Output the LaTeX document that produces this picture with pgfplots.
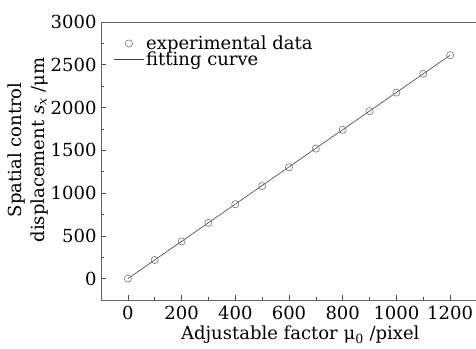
\documentclass[border=0pt]{standalone}
\usepackage{pgfplots}
\pgfplotsset{compat=1.18}
\usepackage{fontspec}
\setmainfont{DejaVu Serif}
\newcommand{\fs}{\fontsize{18}{20}\selectfont}
\pgfplotsset{
  legline/.style={legend image code/.code={\draw[##1] (0pt,0pt) -- (30pt,0pt);}},
  legmark/.style={legend image code/.code={\draw[##1] plot coordinates {(15pt,0pt)};\path (0pt,0pt) (30pt,0pt);}},
}
\begin{document}
\begin{tikzpicture}
\useasboundingbox (-101pt,-48pt) rectangle (375pt,300pt);
\begin{axis}[
  at={(0,0)}, anchor=south west,
  scale only axis, width=376pt, height=278pt,
  xmin=-100, xmax=1300, ymin=-250, ymax=3000,
  xtick={0,200,...,1200}, ytick={0,500,...,3000},
  minor x tick num=1, minor y tick num=1,
  tick align=inside, xtick pos=bottom, ytick pos=left,
  major tick length=5pt, minor tick length=3pt,
  axis line style={draw=black!60, line width=0.9pt},
  every tick/.style={black!70, line width=0.6pt},
  /pgf/number format/assume math mode=true,
  /pgf/number format/1000 sep={},
  tick label style={font=\fs},
  xticklabel style={yshift=-3pt},
  yticklabel style={xshift=-1pt},
  label style={font=\fs},
  xlabel={Adjustable factor μ\textsubscript{0} /pixel},
  xlabel style={at={(ticklabel cs:0.53)}, yshift=1pt},
  ylabel={Spatial control\\[3pt]displacement {\itshape s}\textsubscript{\itshape x} /μm},
  ylabel style={align=center, at={(ticklabel cs:0.54)}, yshift=-4pt},
  legend style={draw=none, fill=none, at={(0.025,0.965)}, anchor=north west, font=\fs, row sep=-3pt},
  legend cell align=left,
]
\addplot[only marks, mark=o, mark size=3.6pt, draw=black!55, line width=0.6pt, legmark] coordinates {
(0,0) (100,218) (200,435) (300,652) (400,870) (500,1082) (600,1302) (700,1520) (800,1740) (900,1958) (1000,2175) (1100,2395) (1200,2612)
};
\addlegendentry{experimental data}
\addplot[black!75, line width=0.6pt, legline] coordinates {(0,0) (1200,2612)};
\addlegendentry{fitting curve}
\end{axis}
\end{tikzpicture}
\end{document}
